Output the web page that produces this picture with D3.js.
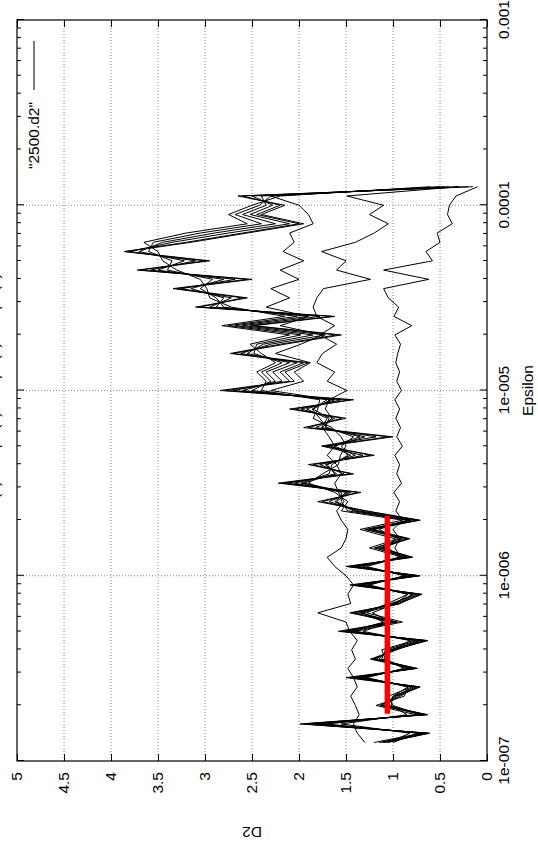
<!DOCTYPE html>
<html>
<head>
<meta charset="utf-8">
<script src="https://cdn.jsdelivr.net/npm/d3@7"></script>
<style>
  body { margin: 0; background: #fff; }
  svg { display: block; }
  text { font-family: "Liberation Sans", Arial, Helvetica, sans-serif; }
</style>
</head>
<body>
<div id="chart"></div>
<script>
// log10(epsilon) grid shared by all curves
const logEps = [-6.90, -6.85, -6.80, -6.75, -6.70, -6.65, -6.60, -6.55, -6.50, -6.45,
  -6.40, -6.35, -6.30, -6.25, -6.20, -6.15, -6.10, -6.05, -6.00, -5.95,
  -5.90, -5.85, -5.80, -5.75, -5.70, -5.65, -5.60, -5.55, -5.50, -5.45,
  -5.40, -5.35, -5.30, -5.25, -5.20, -5.15, -5.10, -5.05, -5.00, -4.95,
  -4.90, -4.85, -4.80, -4.75, -4.70, -4.65, -4.60, -4.55, -4.50, -4.45,
  -4.40, -4.35, -4.30, -4.25, -4.20, -4.15, -4.10, -4.05, -4.00, -3.95,
  -3.90];

// D2 curves (one per embedding dimension)
const d2Curve1 = [1.05, 0.82, 1.55, 0.85, 1.02, 1.00, 0.84, 1.30, 0.88, 1.10,
  1.00, 0.82, 1.32, 1.02, 1.22, 0.97, 0.84, 1.25, 0.88, 1.28,
  0.92, 0.98, 0.93, 1.00, 0.90, 0.97, 0.93, 0.99, 0.91, 0.96,
  0.93, 0.98, 0.90, 0.96, 0.92, 0.97, 0.93, 0.98, 0.91, 0.96,
  0.93, 0.97, 0.95, 0.92, 0.98, 0.80, 0.99, 0.94, 1.05, 1.10,
  0.62, 1.10, 0.58, 0.65, 0.50, 0.53, 0.37, 0.42, 0.40, 0.33,
  0.10];
const d2Curve2 = [1.30, 1.38, 1.42, 1.36, 1.40, 1.45, 1.38, 1.42, 1.48, 1.40,
  1.44, 1.38, 1.46, 1.50, 1.80, 1.45, 1.48, 1.42, 1.50, 1.62,
  1.70, 1.55, 1.50, 1.48, 1.55, 1.60, 1.52, 1.58, 1.62, 1.55,
  1.60, 1.70, 1.62, 1.68, 1.75, 1.65, 1.72, 1.68, 1.49, 1.70,
  1.62, 1.81, 1.75, 1.60, 1.78, 1.62, 1.81, 1.85, 1.81, 1.74,
  1.24, 1.60, 1.50, 1.76, 1.40, 1.20, 1.05, 1.25, 1.10, 1.49,
  0.30];
const d2Curve3 = [1.12, 0.68, 1.80, 0.70, 1.08, 0.98, 0.78, 1.35, 0.82, 1.18,
  1.02, 0.72, 1.42, 1.02, 1.34, 1.00, 0.78, 1.35, 0.80, 1.38,
  0.88, 1.18, 0.92, 1.28, 0.82, 1.40, 1.60, 1.48, 1.95, 1.62,
  1.70, 1.45, 1.66, 1.35, 1.72, 1.68, 1.85, 1.66, 2.30, 1.95,
  2.05, 1.88, 2.25, 1.98, 1.75, 2.20, 1.90, 2.35, 2.10, 2.30,
  2.00, 2.20, 1.95, 2.17, 2.05, 2.10, 1.85, 1.90, 2.00, 2.30,
  0.45];
const d2Curve4 = [1.00, 0.74, 1.70, 0.76, 1.18, 0.88, 0.84, 1.28, 0.88, 1.08,
  1.12, 0.78, 1.40, 0.90, 1.28, 1.06, 0.84, 1.28, 0.86, 1.32,
  0.94, 1.05, 0.98, 1.35, 0.90, 1.55, 1.48, 1.62, 1.90, 1.75,
  1.58, 1.56, 1.50, 1.55, 1.65, 1.85, 1.80, 1.78, 2.40, 2.35,
  2.45, 2.25, 2.40, 2.52, 2.10, 2.82, 2.15, 2.72, 2.95, 2.98,
  3.05, 3.30, 3.45, 3.50, 3.65, 3.20, 2.55, 2.75, 2.50, 2.20,
  0.60];
const d2Curve5 = [1.20, 0.70, 1.78, 0.72, 1.00, 1.05, 0.80, 1.33, 0.84, 1.12,
  1.08, 0.74, 1.45, 1.10, 1.32, 0.92, 0.80, 1.33, 0.82, 1.36,
  0.90, 1.25, 0.95, 1.15, 0.85, 1.48, 1.55, 1.55, 1.98, 1.68,
  1.65, 1.48, 1.55, 1.42, 1.70, 1.78, 1.86, 1.70, 2.50, 2.30,
  2.40, 2.18, 2.48, 2.45, 1.98, 2.75, 2.02, 2.80, 2.88, 3.05,
  2.92, 3.40, 3.35, 3.60, 3.55, 3.05, 2.40, 2.68, 2.42, 2.30,
  0.50];
const d2Curve6 = [1.05, 0.66, 1.85, 0.68, 1.14, 0.92, 0.76, 1.38, 0.80, 1.24,
  0.96, 0.70, 1.50, 0.95, 1.36, 1.02, 0.75, 1.37, 0.78, 1.40,
  0.86, 1.10, 0.90, 1.20, 0.80, 1.42, 1.62, 1.50, 2.05, 1.60,
  1.72, 1.40, 1.62, 1.30, 1.76, 1.70, 1.92, 1.62, 2.60, 2.25,
  2.35, 2.10, 2.55, 2.38, 1.85, 2.68, 1.90, 2.88, 2.80, 3.15,
  2.80, 3.50, 3.22, 3.70, 3.45, 2.90, 2.25, 2.60, 2.35, 2.40,
  0.40];
const d2Curve7 = [1.15, 0.64, 1.92, 0.66, 1.05, 1.00, 0.74, 1.42, 0.77, 1.15,
  1.04, 0.66, 1.52, 1.05, 1.40, 0.98, 0.72, 1.40, 0.74, 1.44,
  0.83, 1.20, 0.86, 1.30, 0.75, 1.36, 1.68, 1.45, 2.12, 1.52,
  1.78, 1.32, 1.76, 1.18, 1.82, 1.62, 1.98, 1.55, 2.70, 2.18,
  2.28, 2.02, 2.62, 2.30, 1.72, 2.60, 1.78, 2.95, 2.72, 3.25,
  2.68, 3.58, 3.10, 3.80, 3.35, 2.75, 2.10, 2.52, 2.28, 2.50,
  0.30];
const d2Curve8 = [1.08, 0.62, 1.95, 0.64, 1.12, 0.97, 0.72, 1.50, 0.75, 1.22,
  0.98, 0.64, 1.55, 0.98, 1.46, 0.93, 0.70, 1.46, 0.72, 1.50,
  0.80, 1.12, 0.84, 1.22, 0.73, 1.28, 1.80, 1.34, 2.18, 1.42,
  1.90, 1.20, 1.74, 1.05, 1.95, 1.50, 2.10, 1.42, 2.78, 2.05,
  2.15, 1.90, 2.70, 2.15, 1.55, 2.48, 1.62, 3.10, 2.55, 3.30,
  2.50, 3.72, 2.95, 3.84, 3.15, 2.55, 1.95, 2.40, 2.15, 2.65,
  0.15];
const d2Curve9 = [1.10, 0.61, 1.99, 0.63, 1.10, 0.95, 0.71, 1.46, 0.74, 1.20,
  1.00, 0.63, 1.58, 1.00, 1.44, 0.95, 0.69, 1.44, 0.71, 1.48,
  0.79, 1.15, 0.82, 1.25, 0.71, 1.30, 1.75, 1.38, 2.22, 1.45,
  1.85, 1.24, 1.70, 1.00, 1.90, 1.55, 2.05, 1.46, 2.84, 2.10,
  2.20, 1.95, 2.73, 2.20, 1.60, 2.52, 1.65, 3.05, 2.60, 3.34,
  2.55, 3.69, 3.00, 3.86, 3.20, 2.60, 2.00, 2.45, 2.20, 2.60,
  0.20];

// red plateau fit
const fitD2 = 1.06;
const fitEps = [1.8e-7, 2.1e-6];

const epsTicks = [1e-7, 1e-6, 1e-5, 1e-4, 1e-3];
const epsTickLabels = ["1e-007", "1e-006", "1e-005", "0.0001", "0.001"];
const d2Ticks = [0, 0.5, 1, 1.5, 2, 2.5, 3, 3.5, 4, 4.5, 5];
const d2TickLabels = ["0", "0.5", "1", "1.5", "2", "2.5", "3", "3.5", "4", "4.5", "5"];

const allCurves = [d2Curve1, d2Curve2, d2Curve3, d2Curve4, d2Curve5,
  d2Curve6, d2Curve7, d2Curve8, d2Curve9];

const fontSize = 15.5;

// the plot is laid out landscape and turned a quarter turn on the page
const W = 741, H = 470;

const svg = d3.select("#chart").append("svg")
    .attr("width", 538)
    .attr("height", 851);

svg.append("rect").attr("width", 538).attr("height", 851).attr("fill", "#fff");

const g = svg.append("g").attr("transform", "translate(17,761) rotate(-90)");

const x = d3.scaleLog().domain([1e-7, 1e-3]).range([0, W]);
const y = d3.scaleLinear().domain([0, 5]).range([H, 0]);

// grid
g.append("g").selectAll("line")
    .data(epsTicks.slice(1, -1))
    .join("line")
    .attr("x1", d => x(d)).attr("x2", d => x(d))
    .attr("y1", 0).attr("y2", H)
    .attr("stroke", "#8a8a8a")
    .attr("stroke-dasharray", "1,2");

g.append("g").selectAll("line")
    .data(d2Ticks.slice(1, -1))
    .join("line")
    .attr("x1", 0).attr("x2", W)
    .attr("y1", d => y(d)).attr("y2", d => y(d))
    .attr("stroke", "#8a8a8a")
    .attr("stroke-dasharray", "1,2");

// axes, ticks pointing inward
function clean(sel) {
    sel.select(".domain").remove();
    sel.selectAll(".tick line").attr("stroke", "#000");
    sel.selectAll("text")
        .attr("font-size", fontSize)
        .attr("fill", "#000")
        .attr("font-family", "'Liberation Sans', Arial, sans-serif");
}

const minorTicks = x.ticks().filter(d => !epsTicks.includes(d));

g.append("g")
    .attr("transform", `translate(0,${H})`)
    .call(d3.axisBottom(x).tickValues(epsTicks).tickSize(-7).tickPadding(11)
        .tickFormat((d, i) => epsTickLabels[i]))
    .call(clean);

g.append("g")
    .attr("transform", `translate(0,${H})`)
    .call(d3.axisBottom(x).tickValues(minorTicks).tickSize(-4).tickFormat(""))
    .call(clean);

g.append("g")
    .call(d3.axisTop(x).tickValues(epsTicks).tickSize(-7).tickFormat(""))
    .call(clean);

g.append("g")
    .call(d3.axisTop(x).tickValues(minorTicks).tickSize(-4).tickFormat(""))
    .call(clean);

g.append("g")
    .call(d3.axisLeft(y).tickValues(d2Ticks).tickSize(-7).tickPadding(11)
        .tickFormat((d, i) => d2TickLabels[i]))
    .call(clean);

g.append("g")
    .attr("transform", `translate(${W},0)`)
    .call(d3.axisRight(y).tickValues(d2Ticks).tickSize(-7).tickFormat(""))
    .call(clean);

// curves
const line = d3.line()
    .x((d, i) => x(Math.pow(10, logEps[i])))
    .y(d => y(d));

g.append("g").selectAll("path")
    .data(allCurves)
    .join("path")
    .attr("d", line)
    .attr("fill", "none")
    .attr("stroke", "#000")
    .attr("stroke-width", 1)
    .attr("stroke-linejoin", "miter");

// fitted plateau
g.append("line")
    .attr("x1", x(fitEps[0])).attr("x2", x(fitEps[1]))
    .attr("y1", y(fitD2)).attr("y2", y(fitD2))
    .attr("stroke", "#ff0000")
    .attr("stroke-width", 5.5);

// frame
g.append("rect")
    .attr("width", W).attr("height", H)
    .attr("fill", "none")
    .attr("stroke", "#000")
    .attr("stroke-width", 1.2);

// key
g.append("line")
    .attr("x1", W - 70).attr("x2", W - 21)
    .attr("y1", 17).attr("y2", 17)
    .attr("stroke", "#000");

g.append("text")
    .attr("x", W - 82).attr("y", 17)
    .attr("dy", "0.35em")
    .attr("text-anchor", "end")
    .attr("font-size", fontSize)
    .text('"2500.d2"');

// axis titles
g.append("text")
    .attr("x", W / 2).attr("y", H + 46)
    .attr("text-anchor", "middle")
    .attr("font-size", fontSize)
    .text("Epsilon");

g.append("text")
    .attr("transform", `translate(-66,${H / 2}) rotate(-90)`)
    .attr("text-anchor", "middle")
    .attr("font-size", fontSize)
    .text("D2");

// title, mostly cut by the page edge as in the original
g.append("text")
    .attr("x", 366).attr("y", -18)
    .attr("text-anchor", "middle")
    .attr("font-size", 14)
    .text("D2(1) vs. eps (2) vs. eps (3) vs. eps (4)");
</script>
</body>
</html>
